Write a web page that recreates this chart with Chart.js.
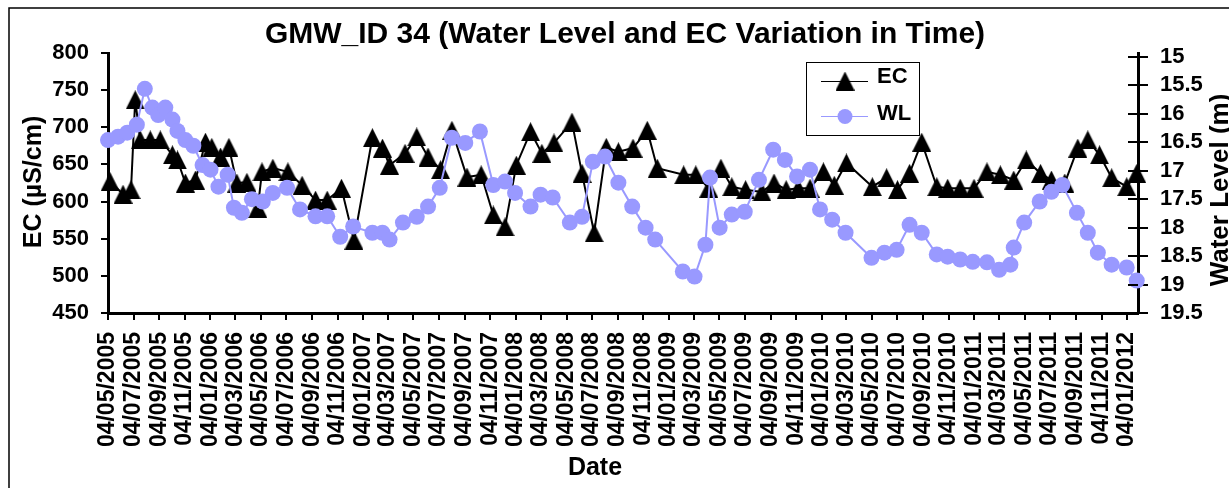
<!DOCTYPE html>
<html>
<head>
  <meta charset="UTF-8">
  <title>GMW_ID 34 - Water Level and EC</title>
  <script src="https://cdn.jsdelivr.net/npm/chart.js"></script>
  <style>
    body { margin: 0; background: #fff; }
    canvas { display: block; }
  </style>
</head>
<body>

<canvas id="gmwChart" width="1229" height="488"></canvas>

<script>
  // EC readings (µS/cm)
  const ecDates = [
    '2005-05-09','2005-06-09','2005-06-28','2005-07-08','2005-07-20','2005-08-13','2005-09-06','2005-10-05',
    '2005-10-17','2005-11-05','2005-11-29','2005-12-23','2006-01-07','2006-01-28','2006-02-17','2006-03-08',
    '2006-04-01','2006-04-27','2006-05-07','2006-06-02','2006-07-08','2006-08-11','2006-09-12','2006-10-10',
    '2006-11-13','2006-12-13','2007-01-26','2007-02-19','2007-03-08','2007-04-14','2007-05-12','2007-06-08',
    '2007-07-08','2007-08-04','2007-09-09','2007-10-13','2007-11-11','2007-12-09','2008-01-05','2008-02-08',
    '2008-03-06','2008-04-04','2008-05-17','2008-06-10','2008-07-09','2008-08-07','2008-09-05','2008-10-10',
    '2008-11-13','2008-12-07','2009-02-08','2009-03-09','2009-04-09','2009-05-08','2009-06-03','2009-07-06',
    '2009-08-14','2009-09-12','2009-10-11','2009-11-09','2009-12-07','2010-01-08','2010-02-03','2010-03-04',
    '2010-05-05','2010-06-08','2010-07-04','2010-08-02','2010-08-31','2010-10-06','2010-11-01','2010-12-01',
    '2011-01-03','2011-02-03','2011-03-07','2011-04-08','2011-05-08','2011-06-11','2011-07-07','2011-08-08',
    '2011-09-08','2011-10-02','2011-10-30','2011-11-28','2012-01-03','2012-01-27'
  ];
  const ecValues = [
    627, 610, 616, 737, 683, 683, 683, 663,
    656, 625, 629, 680, 673, 660, 673, 625,
    626, 591, 640, 645, 640, 622, 602, 602,
    618, 548, 686, 672, 649, 665, 687, 660,
    643, 696, 633, 636, 582, 566, 649, 694,
    665, 679, 707, 638, 558, 673, 667, 672,
    696, 645, 636, 636, 618, 645, 620, 616,
    613, 625, 616, 618, 618, 640, 622, 652,
    620, 632, 616, 638, 680, 620, 618, 618,
    618, 640, 636, 629, 656, 638, 629, 625,
    672, 683, 663, 632, 620, 638
  ];

  // water level readings (m)
  const wlDates = [
    '2005-05-04','2005-05-28','2005-06-19','2005-07-12','2005-07-31','2005-08-18','2005-09-01','2005-09-18',
    '2005-10-05','2005-10-17','2005-11-05','2005-11-24','2005-12-16','2006-01-04','2006-01-23','2006-02-14',
    '2006-03-01','2006-03-20','2006-04-13','2006-05-09','2006-06-02','2006-07-06','2006-08-06','2006-09-12',
    '2006-10-10','2006-11-10','2006-12-11','2007-01-26','2007-02-19','2007-03-08','2007-04-09','2007-05-12',
    '2007-06-08','2007-07-06','2007-08-04','2007-09-05','2007-10-10','2007-11-11','2007-12-09','2008-01-02',
    '2008-02-08','2008-03-03','2008-04-01','2008-05-12','2008-06-10','2008-07-06','2008-08-04','2008-09-05',
    '2008-10-08','2008-11-09','2008-12-02','2009-02-06','2009-03-06','2009-04-01','2009-04-12','2009-05-05',
    '2009-06-03','2009-07-04','2009-08-07','2009-09-10','2009-10-08','2009-11-06','2009-12-07','2009-12-31',
    '2010-01-29','2010-03-02','2010-05-03','2010-06-03','2010-07-02','2010-08-02','2010-08-31','2010-10-06',
    '2010-11-01','2010-12-01','2010-12-31','2011-02-03','2011-03-04','2011-03-31','2011-04-08','2011-05-03',
    '2011-06-09','2011-07-07','2011-08-02','2011-09-06','2011-10-02','2011-10-26','2011-11-28','2012-01-03',
    '2012-01-27'
  ];
  const wlValues = [
    16.46, 16.40, 16.33, 16.19, 15.56, 15.89, 16.02, 15.89,
    16.10, 16.30, 16.46, 16.56, 16.90, 16.98, 17.28, 17.07,
    17.65, 17.74, 17.50, 17.54, 17.39, 17.30, 17.68, 17.80,
    17.80, 18.16, 17.98, 18.09, 18.09, 18.21, 17.91, 17.81,
    17.63, 17.30, 16.42, 16.51, 16.31, 17.25, 17.19, 17.39,
    17.63, 17.42, 17.47, 17.91, 17.81, 16.84, 16.75, 17.21,
    17.63, 18.00, 18.21, 18.77, 18.86, 18.30, 17.12, 18.00,
    17.77, 17.72, 17.16, 16.63, 16.81, 17.10, 16.98, 17.68,
    17.86, 18.09, 18.53, 18.44, 18.39, 17.95, 18.09, 18.47,
    18.51, 18.56, 18.60, 18.61, 18.74, 18.65, 18.35, 17.91,
    17.54, 17.37, 17.25, 17.74, 18.09, 18.44, 18.65, 18.70,
    18.93
  ];

  const dateTicks = [
    '04/05/2005','04/07/2005','04/09/2005','04/11/2005','04/01/2006','04/03/2006','04/05/2006','04/07/2006',
    '04/09/2006','04/11/2006','04/01/2007','04/03/2007','04/05/2007','04/07/2007','04/09/2007','04/11/2007',
    '04/01/2008','04/03/2008','04/05/2008','04/07/2008','04/09/2008','04/11/2008','04/01/2009','04/03/2009',
    '04/05/2009','04/07/2009','04/09/2009','04/11/2009','04/01/2010','04/03/2010','04/05/2010','04/07/2010',
    '04/09/2010','04/11/2010','04/01/2011','04/03/2011','04/05/2011','04/07/2011','04/09/2011','04/11/2011',
    '04/01/2012'
  ];
  const ecTicks = [450, 500, 550, 600, 650, 700, 750, 800];
  const wlTicks = [15, 15.5, 16, 16.5, 17, 17.5, 18, 18.5, 19, 19.5];

  const axisStart = '2005-05-04';
  const axisEnd = '2012-01-30';

  const FONT = '"Liberation Sans", Arial, sans-serif';
  const WL_COLOR = '#9999ff';

  function dayNum(iso) {
    const [y, m, d] = iso.split('-').map(Number);
    return Date.UTC(y, m - 1, d) / 86400000;
  }
  function tickDay(label) {
    const [d, m, y] = label.split('/').map(Number);
    return Date.UTC(y, m - 1, d) / 86400000;
  }

  // excel style triangle: box centred on the point
  function makeTriangle(size, color) {
    const c = document.createElement('canvas');
    c.width = size; c.height = size;
    const g = c.getContext('2d');
    g.fillStyle = color;
    g.beginPath();
    g.moveTo(size / 2, 0);
    g.lineTo(size, size);
    g.lineTo(0, size);
    g.closePath();
    g.fill();
    return c;
  }
  const triangle = makeTriangle(19, '#000');

  const decor = {
    id: 'decor',
    afterDraw(chart) {
      const ctx = chart.ctx;
      ctx.save();

      // frame around the whole chart
      ctx.strokeStyle = '#000';
      ctx.lineWidth = 1.5;
      ctx.strokeRect(9, 8, 1240, 500);

      // inner half of the right axis ticks
      const yr = chart.scales.yWL;
      ctx.lineWidth = 2;
      ctx.beginPath();
      wlTicks.forEach(v => {
        const y = Math.round(yr.getPixelForValue(v));
        ctx.moveTo(yr.left - 10, y);
        ctx.lineTo(yr.left, y);
      });
      ctx.stroke();

      ctx.fillStyle = '#000';
      ctx.font = 'bold 30px ' + FONT;
      ctx.textAlign = 'center';
      ctx.textBaseline = 'alphabetic';
      ctx.fillText('GMW_ID 34 (Water Level and EC Variation in Time)', 625, 43);

      ctx.font = 'bold 25px ' + FONT;
      ctx.fillText('Date', 595, 475);

      ctx.save();
      ctx.translate(41, 182);
      ctx.rotate(-Math.PI / 2);
      ctx.fillText('EC (µS/cm)', 0, 0);
      ctx.restore();

      ctx.save();
      ctx.font = 'bold 26px ' + FONT;
      ctx.translate(1228, 190);
      ctx.rotate(-Math.PI / 2);
      ctx.fillText('Water Level (m)', 0, 0);
      ctx.restore();

      // legend
      ctx.fillStyle = '#fff';
      ctx.fillRect(806, 62, 113, 73);
      ctx.strokeStyle = '#000';
      ctx.lineWidth = 1;
      ctx.strokeRect(806.5, 62.5, 113, 73);

      ctx.beginPath();
      ctx.moveTo(821, 81.5);
      ctx.lineTo(868, 81.5);
      ctx.stroke();
      ctx.drawImage(triangle, 845 - 9.5, 81 - 9.5);

      ctx.strokeStyle = WL_COLOR;
      ctx.beginPath();
      ctx.moveTo(821, 116.5);
      ctx.lineTo(868, 116.5);
      ctx.stroke();
      ctx.fillStyle = WL_COLOR;
      ctx.beginPath();
      ctx.arc(845, 116.5, 7.5, 0, Math.PI * 2);
      ctx.fill();

      ctx.fillStyle = '#000';
      ctx.font = 'bold 22px ' + FONT;
      ctx.textAlign = 'left';
      ctx.fillText('EC', 877, 83);
      ctx.fillText('WL', 877, 120);

      ctx.restore();
    }
  };

  Chart.defaults.font.family = FONT;
  Chart.defaults.font.weight = 'bold';
  Chart.defaults.color = '#000';

  new Chart(document.getElementById('gmwChart'), {
    type: 'line',
    data: {
      datasets: [
        {
          label: 'EC',
          data: ecDates.map((d, i) => ({ x: dayNum(d), y: ecValues[i] })),
          yAxisID: 'yEC',
          borderColor: '#000',
          borderWidth: 2,
          pointStyle: triangle,
          pointRadius: 9,
          tension: 0,
          clip: false,
          order: 1
        },
        {
          label: 'WL',
          data: wlDates.map((d, i) => ({ x: dayNum(d), y: wlValues[i] })),
          yAxisID: 'yWL',
          borderColor: WL_COLOR,
          borderWidth: 2,
          pointStyle: 'circle',
          pointRadius: 8,
          pointBackgroundColor: WL_COLOR,
          pointBorderColor: WL_COLOR,
          pointBorderWidth: 0,
          tension: 0,
          clip: false,
          order: 0
        }
      ]
    },
    options: {
      responsive: false,
      animation: false,
      devicePixelRatio: 1,
      layout: { padding: { top: 53, left: 0, right: 0, bottom: 0 }, autoPadding: false },
      plugins: { legend: { display: false }, title: { display: false }, tooltip: { enabled: false } },
      scales: {
        x: {
          type: 'linear',
          position: 'bottom',
          min: dayNum(axisStart),
          max: dayNum(axisEnd),
          afterBuildTicks: s => { s.ticks = dateTicks.map(t => ({ value: tickDay(t) })); },
          afterFit: s => { s.height = 175; },
          ticks: {
            autoSkip: false, minRotation: 90, maxRotation: 90, padding: 12,
            font: { size: 23, weight: 'bold' }, color: '#000',
            callback: (v, i) => dateTicks[i]
          },
          grid: { drawOnChartArea: false, drawTicks: true, tickLength: 7, color: '#000', lineWidth: 2 },
          border: { display: true, color: '#000', width: 3 }
        },
        yEC: {
          type: 'linear',
          position: 'left',
          min: 450,
          max: 800,
          afterBuildTicks: s => { s.ticks = ecTicks.map(v => ({ value: v })); },
          afterFit: s => { s.width = 108; },
          ticks: { autoSkip: false, padding: 12, font: { size: 22, weight: 'bold' }, color: '#000', callback: v => String(v) },
          grid: { drawOnChartArea: false, drawTicks: true, tickLength: 7, color: '#000', lineWidth: 2 },
          border: { display: true, color: '#000', width: 3 }
        },
        yWL: {
          type: 'linear',
          position: 'right',
          reverse: true,
          min: 14.93,
          max: 19.5,
          afterBuildTicks: s => { s.ticks = wlTicks.map(v => ({ value: v })); },
          afterFit: s => { s.width = 91; },
          ticks: { autoSkip: false, padding: 12, font: { size: 22, weight: 'bold' }, color: '#000', callback: v => String(v) },
          grid: { drawOnChartArea: false, drawTicks: true, tickLength: 10, color: '#000', lineWidth: 2 },
          border: { display: true, color: '#000', width: 3 }
        }
      }
    },
    plugins: [decor]
  });
</script>

</body>
</html>
